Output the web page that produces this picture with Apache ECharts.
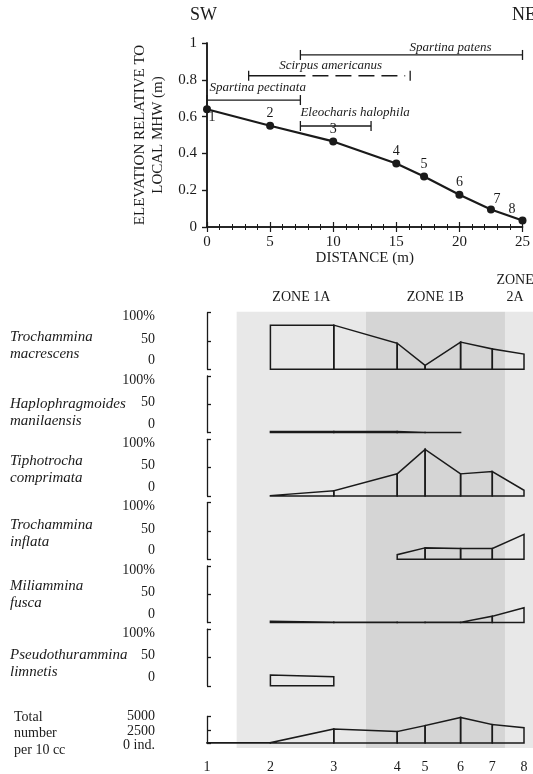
<!DOCTYPE html>
<html><head><meta charset="utf-8">
<script src="https://cdn.jsdelivr.net/npm/echarts@6/dist/echarts.min.js"></script>
<style>html,body{margin:0;padding:0;background:#fff}#c{width:533px;height:774px}</style>
</head><body><div id="c"></div>
<script>
// ---------- DATA ----------
const stations = ['1','2','3','4','5','6','7','8'];
const distance = [0, 5, 10, 15, 17.2, 20, 22.5, 25];
const elevation = [0.64, 0.55, 0.465, 0.345, 0.275, 0.175, 0.095, 0.035];
const distanceTicks = [0, 5, 10, 15, 20, 25];
const elevationTicks = [0, 0.2, 0.4, 0.6, 0.8, 1];

const plants = ['Spartina patens', 'Scirpus americanus', 'Spartina pectinata', 'Eleocharis halophila'];
const plantFrom = [7.4, 3.3, 0, 7.4];
const plantSolidTo = [25, 7.8, 7.4, 13];
const plantTo = [25, 16.1, 7.4, 13];
const plantLevel = [0.935, 0.822, 0.69, 0.549];

const zones = ['ZONE 1A', 'ZONE 1B', 'ZONE\n2A'];
const zoneFrom = [2.34, 12.54, 23.5];
const zoneTo = [12.54, 23.5, 25.8];

const species = ['Trochammina\nmacrescens', 'Haplophragmoides\nmanilaensis', 'Tiphotrocha\ncomprimata',
                 'Trochammina\ninflata', 'Miliammina\nfusca', 'Pseudothurammina\nlimnetis'];
const macrescens = [null, 78, 78, 46, 7, 48, 36, 27];
const manilaensis = [null, 2, 2, 2, 0.3, 0.3, null, null];
const comprimata = [null, 0.5, 9, 39, 82, 39, 43, 10];
const inflata = [null, null, null, 8, 20, 19, 19, 44];
const fusca = [null, 2, 0.3, 0.3, 0.3, 0.3, 11, 26];
const limnetis = [null, 19, 16, null, null, null, null, null];
const percentTicks = [0, 50, 100];

const totalName = 'Total\nnumber\nper 10 cc';
const totalPer10cc = [40, 60, 2650, 2170, 3290, 4830, 3470, 2880];
const totalTicks = [0, 2500, 5000];

// ---------- LAYOUT / STYLE ----------
const FONT = '"Liberation Serif", "Times New Roman", serif';
const INK = '#1a1a1a';
const PL = 207, PW = 317;
const panelTop0 = 312.7, pitch = 63.3, panelH = 56.6;
const speciesTop = [329, 396, 453, 517, 578, 647];
const plantLabelAt = [19.3, 9.8, 0.2, 7.4];
const plantLabelAlign = ['center', 'center', 'left', 'left'];
const plantLabelGap = [7, 10, 12, 13];
const zoneLabelAt = [7.44, 18.0, 24.3];
const zoneShade = ['#e8e8e8', '#d5d5d5', '#e8e8e8'];

const percentSeries = [macrescens, manilaensis, comprimata, inflata, fusca, limnetis];

function segments(vals) {
  const out = [];
  for (let i = 0; i < vals.length - 1; i++) {
    if (vals[i] != null && vals[i + 1] != null) out.push([distance[i], vals[i], distance[i + 1], vals[i + 1]]);
  }
  return out;
}
function kiteItem(params, api) {
  const x0 = api.value(0), v0 = api.value(1), x1 = api.value(2), v1 = api.value(3);
  const pts = [api.coord([x0, 0]), api.coord([x0, v0]), api.coord([x1, v1]), api.coord([x1, 0])];
  return { type: 'polygon', shape: { points: pts }, style: { fill: 'none', stroke: INK, lineWidth: 1.5, lineJoin: 'miter' } };
}
function plantItem(params, api) {
  const i = params.dataIndex;
  const lv = api.value(3);
  const a = api.coord([api.value(0), lv]);
  const s = api.coord([api.value(1), lv]);
  const b = api.coord([api.value(2), lv]);
  const st = { stroke: INK, lineWidth: 1.3 };
  const ch = [
    { type: 'line', shape: { x1: a[0], y1: a[1], x2: s[0], y2: s[1] }, style: st },
    { type: 'line', shape: { x1: a[0], y1: a[1] - 5, x2: a[0], y2: a[1] + 5 }, style: st },
    { type: 'line', shape: { x1: b[0], y1: b[1] - 5, x2: b[0], y2: b[1] + 5 }, style: st }
  ];
  if (b[0] > s[0] + 1) ch.push({ type: 'line', shape: { x1: s[0] + 7, y1: s[1], x2: b[0] - 5, y2: b[1] }, style: { stroke: INK, lineWidth: 1.3, lineDash: [16, 7] } });
  const lp = api.coord([plantLabelAt[i], lv]);
  ch.push({ type: 'text', x: lp[0], y: lp[1] - plantLabelGap[i],
    style: { text: plants[i], textAlign: plantLabelAlign[i], textVerticalAlign: 'middle',
             font: 'italic 13px ' + FONT, fill: INK } });
  return { type: 'group', children: ch };
}
function zoneItem(params, api) {
  const i = params.dataIndex;
  const p0 = api.coord([api.value(0), 1]);
  const p1 = api.coord([api.value(1), 0]);
  const lp = api.coord([zoneLabelAt[i], 1]);
  return { type: 'group', children: [
    { type: 'rect', shape: { x: p0[0], y: p0[1], width: p1[0] - p0[0], height: p1[1] - p0[1] }, style: { fill: zoneShade[i] } },
    { type: 'text', x: lp[0], y: lp[1] - 6, style: { text: zones[i], textAlign: 'center', textVerticalAlign: 'bottom', font: '14px ' + FONT, fill: INK, lineHeight: 17 } }
  ] };
}

const grids = [], xAxes = [], yAxes = [], series = [];
// top profile grid
grids.push({ left: PL, width: PW, top: 43, height: 184 });
const tickIn = { inside: true, length: 5, lineStyle: { color: INK, width: 1.2 } };
const tickOut = { inside: false, length: 5, lineStyle: { color: INK, width: 1.2 } };
const minorCommon = { show: true, length: 3, lineStyle: { color: INK, width: 1 } };
xAxes.push({ gridIndex: 0, type: 'value', min: 0, max: 25, interval: 5, position: 'bottom',
  axisLine: { lineStyle: { color: INK, width: 1.5 } }, axisTick: tickIn,
  minorTick: Object.assign({ splitNumber: 5 }, minorCommon), splitLine: { show: false },
  axisLabel: { color: INK, fontSize: 15, fontFamily: FONT, margin: 8 },
  name: 'DISTANCE (m)', nameLocation: 'middle', nameGap: 24,
  nameTextStyle: { color: INK, fontSize: 15, fontFamily: FONT, verticalAlign: 'top' } });
xAxes.push({ gridIndex: 0, type: 'value', min: 0, max: 25, interval: 5, position: 'top',
  axisLine: { lineStyle: { color: INK, width: 1.5 } }, axisTick: tickIn,
  minorTick: Object.assign({ splitNumber: 5 }, minorCommon), splitLine: { show: false }, axisLabel: { show: false } });
yAxes.push({ gridIndex: 0, type: 'value', min: 0, max: 1, interval: 0.2, position: 'left',
  axisLine: { show: true, lineStyle: { color: INK, width: 1.5 } }, axisTick: tickOut,
  splitLine: { show: false },
  axisLabel: { color: INK, fontSize: 15, fontFamily: FONT, margin: 10,
    formatter: v => (v === 0 || v === 1) ? String(v) : v.toFixed(1) },
  name: 'ELEVATION RELATIVE TO\nLOCAL MHW (m)', nameLocation: 'middle', nameGap: 36,
  nameTextStyle: { color: INK, fontSize: 15, fontFamily: FONT, lineHeight: 18 } });
yAxes.push({ gridIndex: 0, type: 'value', min: 0, max: 1, interval: 0.2, position: 'right',
  axisLine: { show: true, lineStyle: { color: INK, width: 1.5 } }, axisTick: tickIn,
  splitLine: { show: false }, axisLabel: { show: false } });

// percent panels
const pctRich = {
  t: { fontSize: 14, fontFamily: FONT, color: INK, padding: [8, 0, 0, 0] },
  m: { fontSize: 14, fontFamily: FONT, color: INK, padding: [0, 0, 4, 0] },
  z: { fontSize: 14, fontFamily: FONT, color: INK, padding: [0, 0, 17, 0] }
};
percentSeries.forEach((vals, k) => {
  const g = grids.length, xi = xAxes.length, yi = yAxes.length;
  grids.push({ left: PL, width: PW, top: panelTop0 + pitch * k, height: panelH });
  xAxes.push({ gridIndex: g, type: 'value', min: 0, max: 25, show: false });
  yAxes.push({ gridIndex: g, type: 'value', min: percentTicks[0], max: percentTicks[2], interval: 50, position: 'left', offset: 42,
    axisLine: { show: true, lineStyle: { color: INK, width: 1.3 } },
    axisTick: { show: true, inside: true, length: 4, lineStyle: { color: INK, width: 1.3 } },
    splitLine: { show: false },
    axisLabel: { margin: 10, showMinLabel: true, showMaxLabel: true,
      formatter: v => v === 100 ? '{t|100%}' : (v === 50 ? '{m|50}' : '{z|0}'), rich: pctRich } });
  series.push({ type: 'custom', xAxisIndex: xi, yAxisIndex: yi, z: 3, renderItem: kiteItem, data: segments(vals), silent: true });
});

// total panel
const totRich = {
  t: { fontSize: 14, fontFamily: FONT, color: INK, padding: [0, 0, 0, 0] },
  m: { fontSize: 14, fontFamily: FONT, color: INK, padding: [3, 0, 0, 0] },
  z: { fontSize: 14, fontFamily: FONT, color: INK, padding: [5, 0, 0, 0] }
};
{
  const g = grids.length, xi = xAxes.length, yi = yAxes.length;
  grids.push({ left: PL, width: PW, top: 716.5, height: 29.5 });
  xAxes.push({ gridIndex: g, type: 'value', min: 0, max: 25, position: 'bottom',
    axisLine: { show: false }, axisTick: { show: false }, splitLine: { show: false },
    axisLabel: { show: true, customValues: distance, margin: 17, color: INK, fontSize: 14, fontFamily: FONT,
      formatter: v => stations[distance.indexOf(v)] } });
  yAxes.push({ gridIndex: g, type: 'value', min: 0, max: 5000, position: 'left', offset: 42,
    axisLine: { show: true, lineStyle: { color: INK, width: 1.3 } },
    axisTick: { show: true, inside: true, length: 4, customValues: totalTicks, lineStyle: { color: INK, width: 1.3 } },
    splitLine: { show: false },
    axisLabel: { margin: 10, customValues: totalTicks, hideOverlap: false,
      formatter: v => v === 0 ? '{z|0 ind.}' : (v === 2500 ? '{m|2500}' : '{t|5000}'), rich: totRich } });
  series.push({ type: 'custom', xAxisIndex: xi, yAxisIndex: yi, z: 3, renderItem: kiteItem, data: segments(totalPer10cc), silent: true });
}

// shading grid
{
  const g = grids.length, xi = xAxes.length, yi = yAxes.length;
  grids.push({ left: PL, width: PW, top: 311.7, height: 436.3 });
  xAxes.push({ gridIndex: g, type: 'value', min: 0, max: 25, show: false });
  yAxes.push({ gridIndex: g, type: 'value', min: 0, max: 1, show: false });
  series.push({ type: 'custom', xAxisIndex: xi, yAxisIndex: yi, z: 0, clip: false, renderItem: zoneItem, silent: true,
    data: zones.map((z, i) => [zoneFrom[i], zoneTo[i]]) });
}

// profile line
const labelFix = [
  { position: 'bottom', distance: 0, offset: [5, -3] },
  {}, {}, {}, {}, {},
  { offset: [6, 2] },
  { position: 'left', distance: 3, offset: [0, -11] }
];
series.push({ type: 'line', xAxisIndex: 0, yAxisIndex: 0, z: 4, symbol: 'circle', symbolSize: 8,
  lineStyle: { color: INK, width: 2.2 }, itemStyle: { color: INK },
  label: { show: true, position: 'top', distance: 1, color: INK, fontSize: 14, fontFamily: FONT,
    formatter: p => stations[p.dataIndex] },
  data: distance.map((d, i) => ({ value: [d, elevation[i]], label: labelFix[i] })) });
series.push({ type: 'custom', xAxisIndex: 0, yAxisIndex: 0, z: 4, renderItem: plantItem, silent: true, clip: false,
  data: plants.map((p, i) => [plantFrom[i], plantSolidTo[i], plantTo[i], plantLevel[i]]) });

const graphics = [
  { type: 'text', left: 190, top: 6, style: { text: 'SW', font: '18px ' + FONT, fill: INK } },
  { type: 'text', left: 512, top: 6, style: { text: 'NE', font: '18px ' + FONT, fill: INK } },
  { type: 'text', left: 14, top: 709, style: { text: totalName, font: '14px ' + FONT, fill: INK, lineHeight: 16.5 } }
];
species.forEach((s, k) => graphics.push({ type: 'text', left: 10, top: speciesTop[k],
  style: { text: s, font: 'italic 15px ' + FONT, fill: INK, lineHeight: 17 } }));

const chart = echarts.init(document.getElementById('c'), null, { renderer: 'canvas' });
chart.setOption({
  animation: false,
  backgroundColor: '#fff',
  textStyle: { fontFamily: FONT },
  grid: grids, xAxis: xAxes, yAxis: yAxes, series: series, graphic: graphics
});
</script></body></html>
